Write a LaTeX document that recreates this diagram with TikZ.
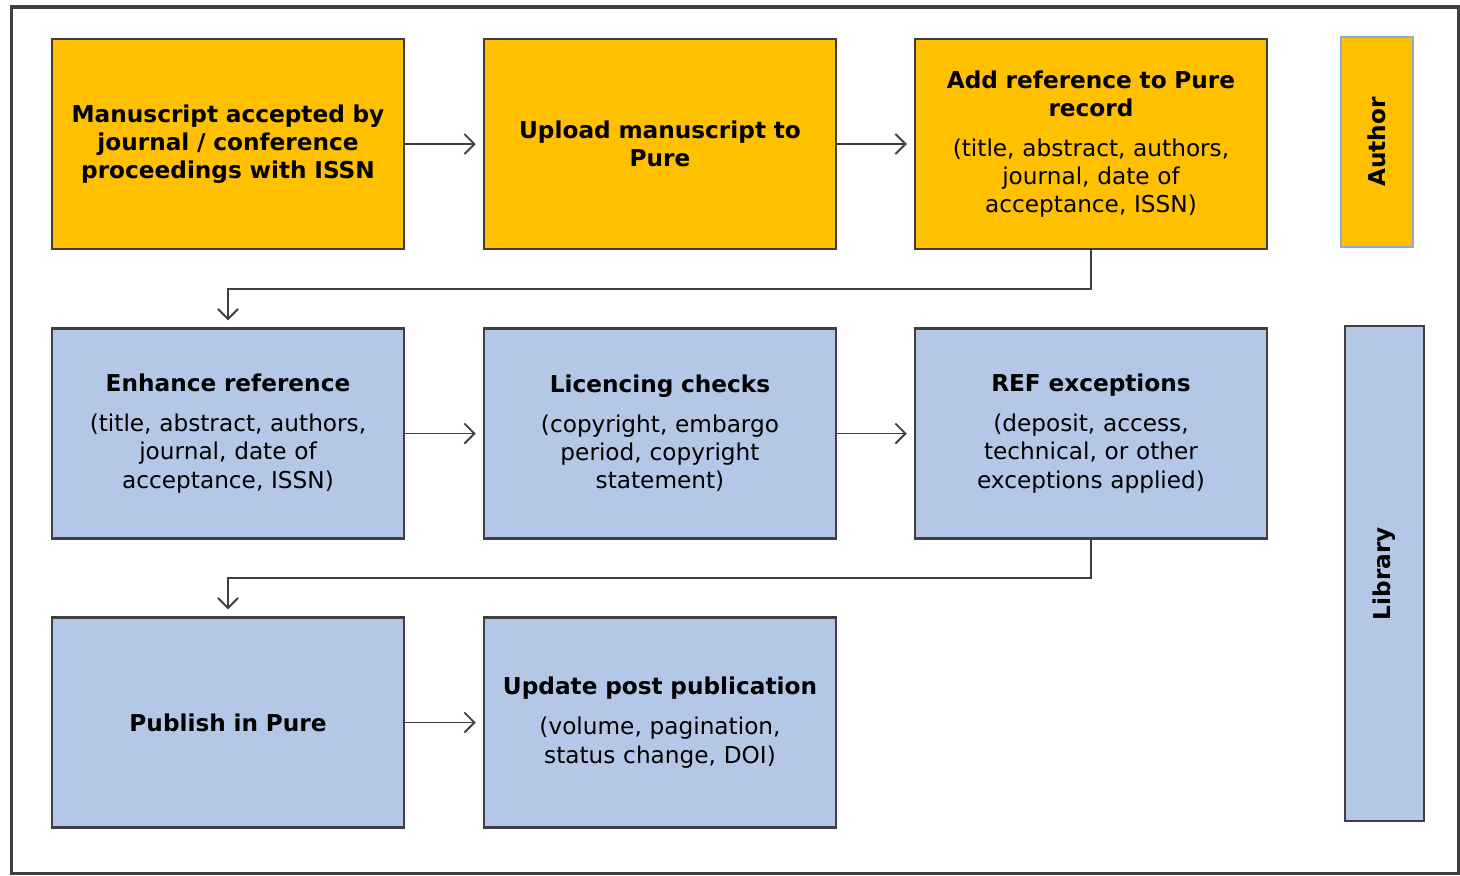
\documentclass[tikz,border=0pt]{standalone}
\usepackage{fontspec}
\setmainfont{DejaVu Sans}
\usetikzlibrary{arrows.meta}
\definecolor{authorfill}{HTML}{FFC000}
\definecolor{libfill}{HTML}{B4C7E7}
\definecolor{edge}{HTML}{3F3F3F}
\definecolor{authoredge}{HTML}{8FAACC}
\tikzset{
  stepbox/.style={draw=edge, line width=0.65pt, minimum width=3.52cm, minimum height=2.1cm,
    text width=3.45cm, align=center, inner sep=0pt, font=\fontsize{6.6}{8}\selectfont},
  authorstep/.style={stepbox, fill=authorfill},
  librarystep/.style={stepbox, fill=libfill},
  rolebox/.style={rotate=90, line width=0.65pt, minimum width=2.1cm, inner sep=0pt,
    font=\fontsize{6.6}{8}\selectfont\bfseries},
  link/.style={draw=edge, line width=0.55pt, -{Straight Barb[length=1mm,width=2mm]}, shorten >=0.07cm}
}
\begin{document}
\begin{tikzpicture}[x=0.01cm, y=-0.01cm]
  \useasboundingbox (0,0) rectangle (1460,875);
  \draw[draw=black!75, line width=0.9pt] (11.5,7) rectangle (1458.5,873.5);

  % author steps
  \node[authorstep] (accepted) at (228,144) {\textbf{Manuscript accepted by}\\\textbf{journal / conference}\\\textbf{proceedings with ISSN}};
  \node[authorstep] (upload) at (660,144) {\textbf{Upload manuscript to}\\\textbf{Pure}};
  \node[authorstep] (addref) at (1091,144) {\textbf{Add reference to Pure}\\\textbf{record}\\[3.4pt]
    (title, abstract, authors,\\journal, date of\\acceptance, ISSN)};

  % library steps
  \node[librarystep] (enhance) at (228,433.5) {\textbf{Enhance reference}\\[3.4pt]
    (title, abstract, authors,\\journal, date of\\acceptance, ISSN)};
  \node[librarystep] (licence) at (660,433.5) {\textbf{Licencing checks}\\[3.4pt]
    (copyright, embargo\\period, copyright\\statement)};
  \node[librarystep] (refexc) at (1091,433.5) {\textbf{REF exceptions}\\[3.4pt]
    (deposit, access,\\technical, or other\\exceptions applied)};
  \node[librarystep] (publish) at (228,722.5) {\textbf{Publish in Pure}};
  \node[librarystep] (update) at (660,722.5) {\textbf{Update post publication}\\[3.4pt]
    (volume, pagination,\\status change, DOI)};

  % roles
  \node[rolebox, draw=authoredge, fill=authorfill, minimum height=0.72cm] (author) at (1377,142) {Author};
  \node[rolebox, draw=edge, fill=libfill, minimum height=0.79cm, minimum width=4.95cm] (library) at (1384.5,573.5) {Library};

  % flow
  \draw[link] (accepted) -- (upload);
  \draw[link] (upload) -- (addref);
  \draw[link] (addref.south) -- ++(0,39) -| (enhance.north);
  \draw[link] (enhance) -- (licence);
  \draw[link] (licence) -- (refexc);
  \draw[link] (refexc.south) -- ++(0,38) -| (publish.north);
  \draw[link] (publish) -- (update);
\end{tikzpicture}
\end{document}
